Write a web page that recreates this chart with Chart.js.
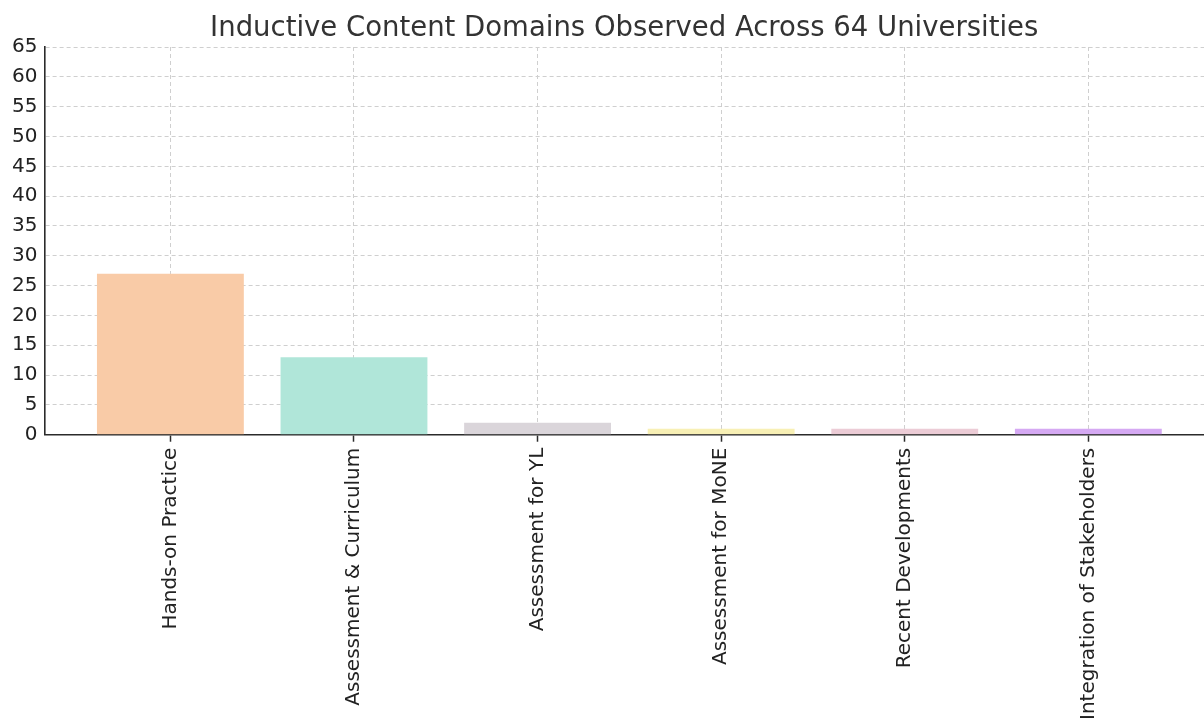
<!DOCTYPE html>
<html>
<head>
<meta charset="utf-8">
<script src="https://cdn.jsdelivr.net/npm/chart.js@4"></script>
<style>
  body { margin: 0; background: #fff; }
  #wrap { width: 1204px; height: 721px; }
</style>
</head>
<body>
<div id="wrap"><canvas id="chart"></canvas></div>
<script>
// 카테고리와 값
const domains = [
  "Hands-on Practice",
  "Assessment & Curriculum",
  "Assessment for YL",
  "Assessment for MoNE",
  "Recent Developments",
  "Integration of Stakeholders",
];
const counts = [27, 13, 2, 1, 1, 1];
const barColors = ["#f9cba7", "#b0e6d9", "#dad5da", "#f8f0b5", "#ecccd6", "#d5a9f3"];
const yTicks = [0, 5, 10, 15, 20, 25, 30, 35, 40, 45, 50, 55, 60, 65];

const gridColor = "#cfcfcf";
const axisColor = "#2b2b2b";
const font = { family: "DejaVu Sans", size: 20 };

new Chart(document.getElementById("chart"), {
  type: "bar",
  data: {
    datasets: [
      {
        data: counts.map((v, i) => ({ x: i, y: v })),
        backgroundColor: barColors,
        borderWidth: 0,
        barPercentage: 0.8,
        categoryPercentage: 1,
      },
    ],
  },
  options: {
    responsive: true,
    maintainAspectRatio: false,
    animation: false,
    layout: { padding: { left: 5, right: 0, top: 8, bottom: -5 } },
    scales: {
      x: {
        type: "linear",
        min: -0.686,
        max: 5.63,
        offset: false,
        z: 1,
        afterBuildTicks: (axis) => {
          axis.ticks = domains.map((_, i) => ({ value: i }));
        },
        ticks: {
          minRotation: 90,
          maxRotation: 90,
          autoSkip: false,
          color: "#222",
          font: font,
          padding: 6,
          callback: (v) => domains[v] ?? "",
        },
        grid: {
          offset: false,
          color: gridColor,
          tickBorderDash: [],
          tickColor: axisColor,
          tickWidth: 1.5,
          tickLength: 7,
          lineWidth: 1,
        },
        border: { color: axisColor, width: 1.6, dash: [4, 3] },
      },
      y: {
        min: 0,
        max: 65,
        z: 1,
        afterBuildTicks: (axis) => {
          axis.ticks = yTicks.map((v) => ({ value: v }));
        },
        ticks: { color: "#222", font: font, padding: 7 },
        grid: {
          color: gridColor,
          drawTicks: false,
          lineWidth: 1,
        },
        border: { color: axisColor, width: 1.6, dash: [4, 3] },
      },
    },
    plugins: {
      legend: { display: false },
      tooltip: { enabled: false },
      title: {
        display: true,
        fullSize: false,
        text: "Inductive Content Domains Observed Across 64 Universities",
        color: "#333",
        font: { family: "DejaVu Sans", size: 27.5, weight: "normal" },
        padding: { top: 4, bottom: 2 },
      },
    },
  },
});
</script>
</body>
</html>
